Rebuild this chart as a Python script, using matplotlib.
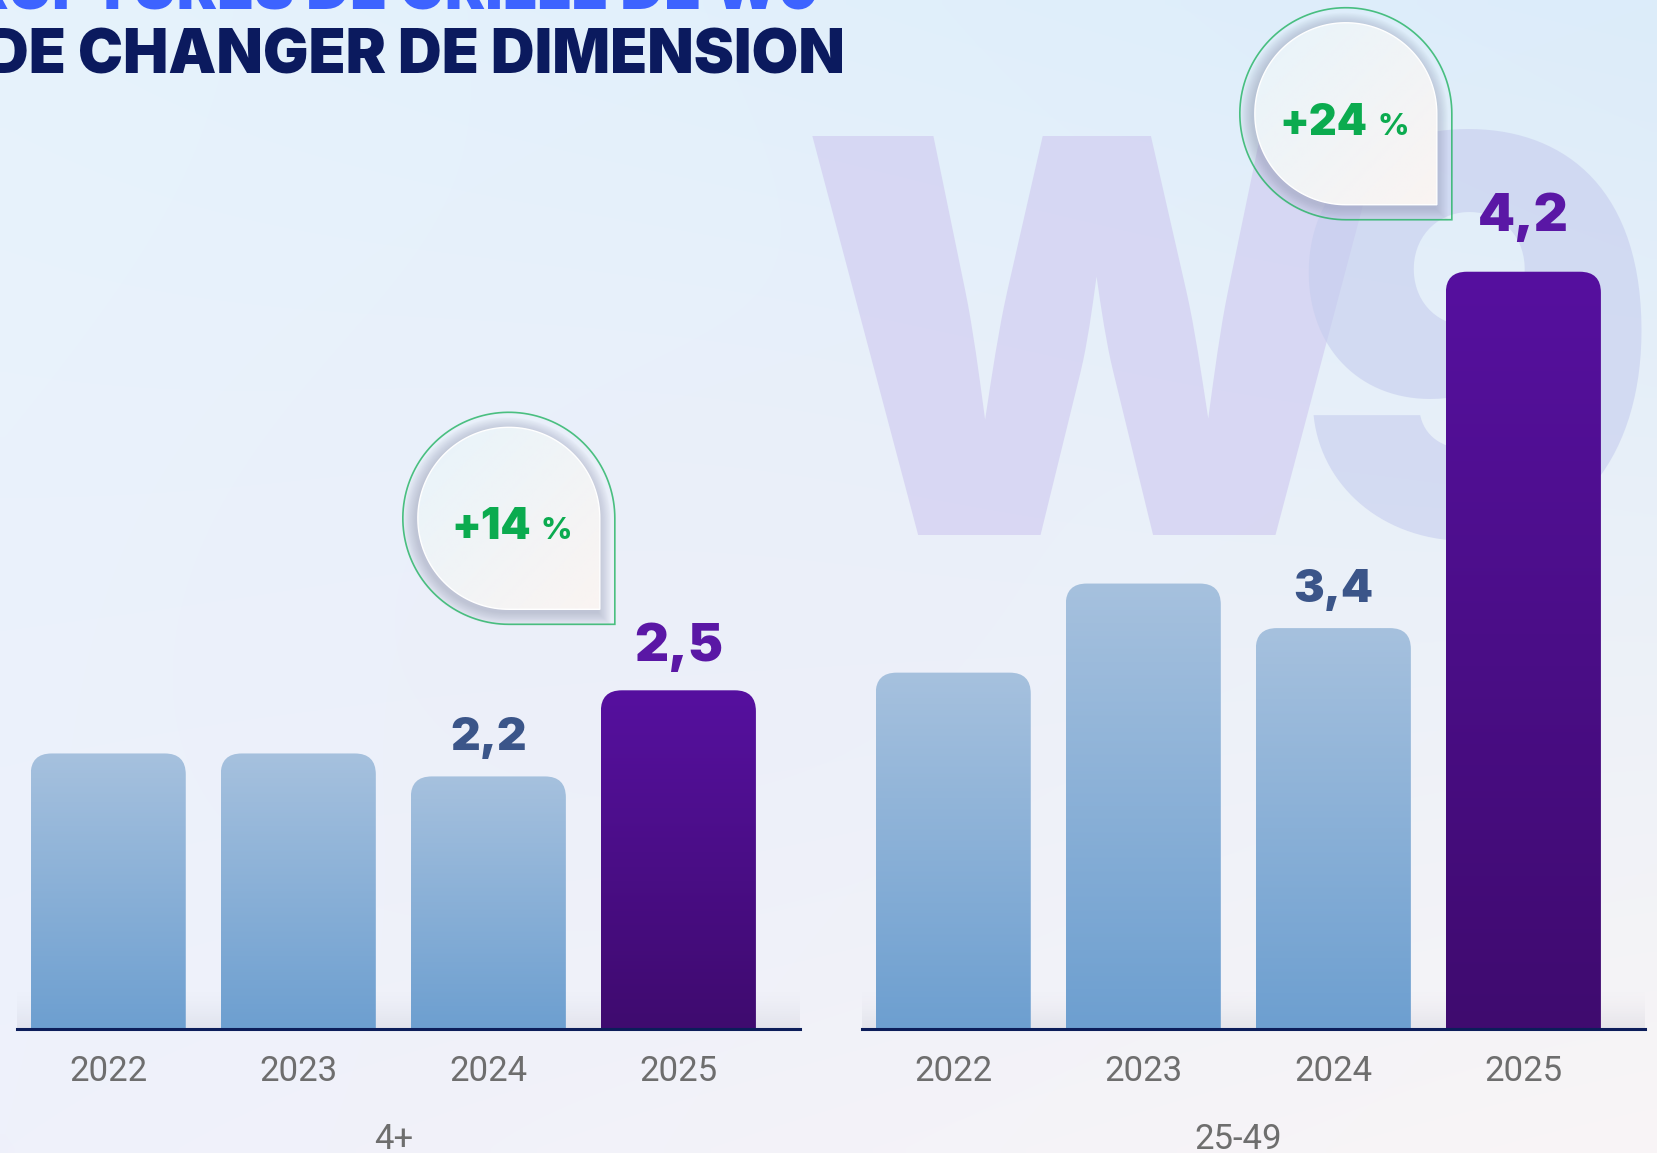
import numpy as np
import matplotlib
matplotlib.use("Agg")
from matplotlib import pyplot as plt
from matplotlib.patches import FancyBboxPatch, Polygon
from matplotlib.colors import to_rgb
from matplotlib.transforms import blended_transform_factory

# DATA
years = ["2022", "2023", "2024", "2025"]
groups = ["4+", "25-49"]
values_4plus = [2.28, 2.28, 2.2, 2.5]
values_2549 = [3.3, 3.5, 3.4, 4.2]
labelled = [2, 3]          # indexes of the bars that carry a value label
# the panels do not start at zero
y_floor = [1.32, 2.5]
y_ceil = [4.905, 4.81]

W, H = 1657, 1153
HEAVY = ["Inter", "DejaVu Sans"]
REG = ["Roboto", "DejaVu Sans"]

fig = plt.figure(figsize=(W / 100, H / 100), dpi=100)


def lerp(c1, c2, t):
    c1, c2 = np.array(to_rgb(c1)), np.array(to_rgb(c2))
    return c1 + (c2 - c1) * t


# background: bilinear between four corner colours
bg = fig.add_axes([0, 0, 1, 1], zorder=0)
bg.axis("off")
ty, tx = np.mgrid[0:1:120j, 0:1:160j]
tl, tr = np.array(to_rgb("#e6f3fc")), np.array(to_rgb("#dcecfa"))
bl, br = np.array(to_rgb("#eff1fb")), np.array(to_rgb("#f9f5f6"))
top = tl[None, None, :] * (1 - tx[..., None]) + tr[None, None, :] * tx[..., None]
bot = bl[None, None, :] * (1 - tx[..., None]) + br[None, None, :] * tx[..., None]
grad = top * (1 - ty[..., None]) + bot * ty[..., None]
mid = np.array(to_rgb("#ecedf9"))
d = np.exp(-(((tx - 0.4) ** 2) + ((ty - 0.55) ** 2)) / 0.08)[..., None]
grad = grad * (1 - 0.5 * d) + mid * 0.5 * d
bg.imshow(grad, extent=(0, W, 0, H), aspect="auto", interpolation="bilinear")
bg.set_xlim(0, W)
bg.set_ylim(0, H)

# W9 watermark
bg.text(800, H - 535, "W", fontsize=395, family=HEAVY, weight=900,
        color="#d0cbf0", alpha=0.65, ha="left", va="baseline")
bg.text(1660, H - 535, "9", fontsize=395, family=HEAVY, weight=900,
        color="#c6cdee", alpha=0.6, ha="right", va="baseline")

# title (cut at the frame edges like the source)
t1 = bg.text(820, H - 9, "RUPTURES DE GRILLE DE W9", fontsize=46, family=HEAVY,
             weight=900, color="#3d63ff", ha="right", va="baseline")
t2 = bg.text(845, H - 74, "DE CHANGER DE DIMENSION", fontsize=46, family=HEAVY,
             weight=900, color="#0b1a5e", ha="right", va="baseline")
fig.canvas.draw()
w2 = t2.get_window_extent().width
t2.set_fontsize(46 * 858 / w2)
t1.set_fontsize(46 * 858 / w2)

blue_top, blue_bot = "#a6c1de", "#6d9fd0"
purple_top, purple_bot = "#56109f", "#3f0b6f"

panel_left = [17, 862]
base_px = 1029
bar_w = 0.816
label_gap = [[19, 21], [19, 29]]   # points above the bar: [blue, purple]
axes = []
for i, vals in enumerate([values_4plus, values_2549]):
    ax = fig.add_axes([panel_left[i] / W, (H - base_px) / H, 783 / W, base_px / H], zorder=2)
    ax.patch.set_alpha(0)
    lo, hi = y_floor[i], y_ceil[i]
    px_per_unit = base_px / (hi - lo)
    rx = 21 / 190
    ry = 21 / px_per_unit
    # soft floor shadow behind the bars
    sh = np.zeros((50, 1, 4))
    sh[..., :3] = to_rgb("#a9abbb")
    sh[:, 0, 3] = np.linspace(0, 0.35, 50) ** 1.5
    ax.imshow(sh, extent=(-0.48, 3.64, lo, lo + 40 / px_per_unit), aspect="auto",
              interpolation="bilinear", zorder=1)
    for j, v in enumerate(vals):
        last = j == len(vals) - 1
        c1, c2 = (purple_top, purple_bot) if last else (blue_top, blue_bot)
        box = FancyBboxPatch((j - bar_w / 2, lo - 1), bar_w, v - (lo - 1),
                             boxstyle=f"round,pad=0,rounding_size={rx}",
                             mutation_aspect=ry / rx, facecolor="none",
                             edgecolor="none")
        ax.add_patch(box)
        t = np.linspace(0, 1, 200)
        g = np.array([lerp(c1, c2, k) for k in t])[:, None, :]
        im = ax.imshow(g, extent=(j - bar_w / 2, j + bar_w / 2, lo, v),
                       aspect="auto", interpolation="bilinear", zorder=2)
        im.set_clip_path(box)
        if j in labelled:
            col = "#5a17a5" if last else "#3b5589"
            fs = 38 if last else 33
            ax.annotate(f"{v:.1f}".replace(".", ","), (j, v),
                        xytext=(0, label_gap[i][int(last)]),
                        textcoords="offset points", ha="center", va="baseline",
                        fontsize=fs, family=HEAVY, weight=900, color=col)
    ax.set_xlim(-0.48, 3.64)
    ax.set_ylim(lo, hi)
    ax.set_yticks([])
    ax.set_xticks(range(len(years)), years)
    ax.tick_params(axis="x", length=0, pad=19, labelsize=25, colors="#6e6e6e")
    for lab in ax.get_xticklabels():
        lab.set_family(REG)
    for s in ["top", "left", "right"]:
        ax.spines[s].set_visible(False)
    ax.spines["bottom"].set_color("#0c1d5a")
    ax.spines["bottom"].set_linewidth(2.2)
    tr_ = blended_transform_factory(ax.transData, ax.transAxes)
    ax.text(1.5, -0.107, groups[i], transform=tr_, ha="center", va="center",
            fontsize=25, family=REG, color="#6e6e6e")
    axes.append(ax)

# growth badges
ov = fig.add_axes([0, 0, 1, 1], zorder=5)
ov.axis("off")
ov.patch.set_alpha(0)


def drop(cx, cy, r, n=120):
    a = np.linspace(np.pi * 1.5, 0, n)
    pts = np.column_stack([cx + r * np.cos(a), cy + r * np.sin(a)])
    return np.vstack([pts, [cx + r, cy - r]])


badge_dx = [14, 6]
badge_gap = [66, 52]
fig.canvas.draw()
for i, vals in enumerate([values_4plus, values_2549]):
    ax = axes[i]
    bx, by = ax.transData.transform((3 - bar_w / 2, vals[3]))
    R_out, r_in = 106, 91
    cx, cy = bx + badge_dx[i] - R_out, by + badge_gap[i] + R_out
    for k in range(12):
        ov.add_patch(Polygon(drop(cx - 2, cy - 3, r_in + 13 - k * 1.1), closed=True,
                             facecolor="#8c92ad", edgecolor="none", alpha=0.045, zorder=1))
    inner = Polygon(drop(cx, cy, r_in), closed=True, facecolor="none",
                    edgecolor="white", lw=1, zorder=3)
    ov.add_patch(inner)
    yy, xx = np.mgrid[0:1:60j, 0:1:60j]
    tt = (xx + yy) / 2
    gi = np.array(to_rgb("#e8f4fb"))[None, None, :] * (1 - tt[..., None]) + \
        np.array(to_rgb("#faf4f2"))[None, None, :] * tt[..., None]
    im = ov.imshow(gi, extent=(cx - r_in, cx + r_in, cy - r_in, cy + r_in),
                   aspect="auto", interpolation="bilinear", zorder=2)
    im.set_clip_path(inner)
    ov.add_patch(Polygon(drop(cx, cy, R_out), closed=True, facecolor="none",
                         edgecolor="#22b362", lw=1.2, alpha=0.8, zorder=3))
    pct = round((vals[3] / vals[2] - 1) * 100)
    ov.text(cx + 22, cy - 21, f"+{pct}", ha="right", va="baseline", fontsize=31,
            family=HEAVY, weight=900, color="#0bab4f", zorder=4)
    ov.text(cx + 32, cy - 21, "%", ha="left", va="baseline", fontsize=22,
            family=HEAVY, weight=800, color="#0bab4f", zorder=4)
ov.set_xlim(0, W)
ov.set_ylim(0, H)

fig.savefig("out.png", dpi=100)
